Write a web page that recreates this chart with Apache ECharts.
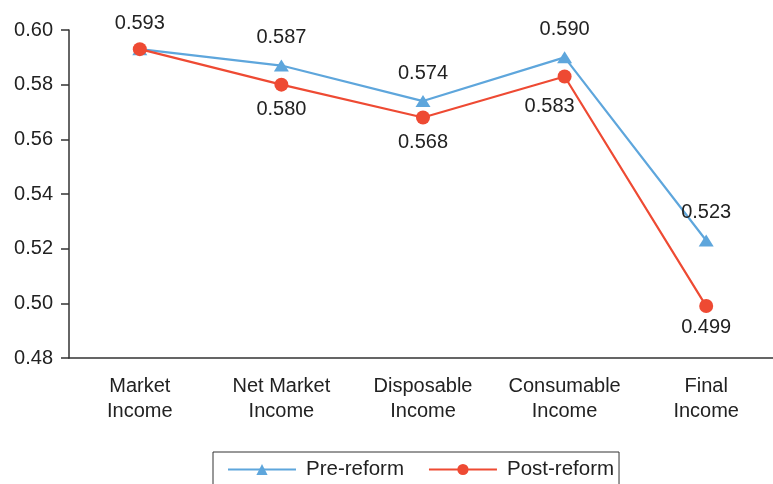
<!DOCTYPE html>
<html>
<head>
<meta charset="utf-8">
<script src="https://cdn.jsdelivr.net/npm/echarts@6/dist/echarts.min.js"></script>
<style>
  html, body { margin: 0; padding: 0; background: #fff; overflow: hidden; }
  #chart { width: 780px; height: 484px; }
</style>
</head>
<body>
<div id="chart"></div>
<script>
    // categories and values
    var categories = ["Market\nIncome", "Net Market\nIncome", "Disposable\nIncome", "Consumable\nIncome", "Final\nIncome"];
    var preReform = [0.593, 0.587, 0.574, 0.590, 0.523];
    var postReform = [0.593, 0.580, 0.568, 0.583, 0.499];
    var yTicks = [0.48, 0.50, 0.52, 0.54, 0.56, 0.58, 0.60];

    var blue = "#5ea6dc";
    var red = "#ee4a33";
    var axisColor = "#333";
    var font = "Liberation Sans, Arial, sans-serif";

    // label placement per point (above for pre, below for post)
    var preData = preReform.map(function (v, i) {
        return {
            value: v,
            label: {show: i !== 0}
        };
    });
    var postData = postReform.map(function (v, i) {
        var lab = {position: "bottom", distance: 8};
        if (i === 0) lab = {position: "top", distance: 9};
        if (i === 3) lab = {position: "bottom", distance: 13, offset: [-15, 0]};
        if (i === 4) lab = {position: "bottom", distance: 4};
        return {value: v, label: lab};
    });

    // the plot runs slightly past the right edge of the window, as in the figure
    var chart = echarts.init(document.getElementById("chart"));
    chart.setOption({
        animation: false,
        textStyle: {fontFamily: font},
        grid: {left: 69, right: 3, top: 30, bottom: 126},
        legend: {
            left: 213,
            top: 452,
            orient: "horizontal",
            itemWidth: 68,
            itemHeight: 14,
            itemGap: 24,
            padding: [7, 5, 12, 14],
            borderColor: axisColor,
            borderWidth: 1,
            textStyle: {fontSize: 20.5, color: "#222", fontFamily: font, padding: [0, 0, 0, 5]},
            data: ["Pre-reform", "Post-reform"]
        },
        xAxis: {
            type: "category",
            data: categories,
            boundaryGap: true,
            axisLine: {lineStyle: {color: axisColor, width: 1.5}},
            axisTick: {alignWithLabel: true, length: 8, lineStyle: {color: axisColor, width: 1.5}},
            axisLabel: {
                fontSize: 20, color: "#222", lineHeight: 25, margin: 16, interval: 0
            }
        },
        yAxis: {
            type: "value",
            min: yTicks[0],
            max: yTicks[yTicks.length - 1],
            interval: 0.02,
            splitLine: {show: false},
            axisLine: {show: true, lineStyle: {color: axisColor, width: 1.5}},
            axisTick: {show: true, length: 8, lineStyle: {color: axisColor, width: 1.5}},
            axisLabel: {
                fontSize: 20, color: "#222", margin: 16,
                formatter: function (v) { return v.toFixed(2); }
            }
        },
        series: [
            {
                name: "Pre-reform",
                type: "line",
                data: preData,
                symbol: "triangle",
                symbolSize: [15, 12],
                lineStyle: {color: blue, width: 2.2},
                itemStyle: {color: blue},
                label: {
                    show: true, position: "top", distance: 12,
                    fontSize: 20, color: "#222",
                    formatter: function (p) { return p.value.toFixed(3); }
                },
                z: 2
            },
            {
                name: "Post-reform",
                type: "line",
                data: postData,
                symbol: "circle",
                symbolSize: 14,
                lineStyle: {color: red, width: 2.2},
                itemStyle: {color: red},
                label: {
                    show: true, fontSize: 20, color: "#222",
                    formatter: function (p) { return p.value.toFixed(3); }
                },
                z: 3
            }
        ]
    });
</script>
</body>
</html>
